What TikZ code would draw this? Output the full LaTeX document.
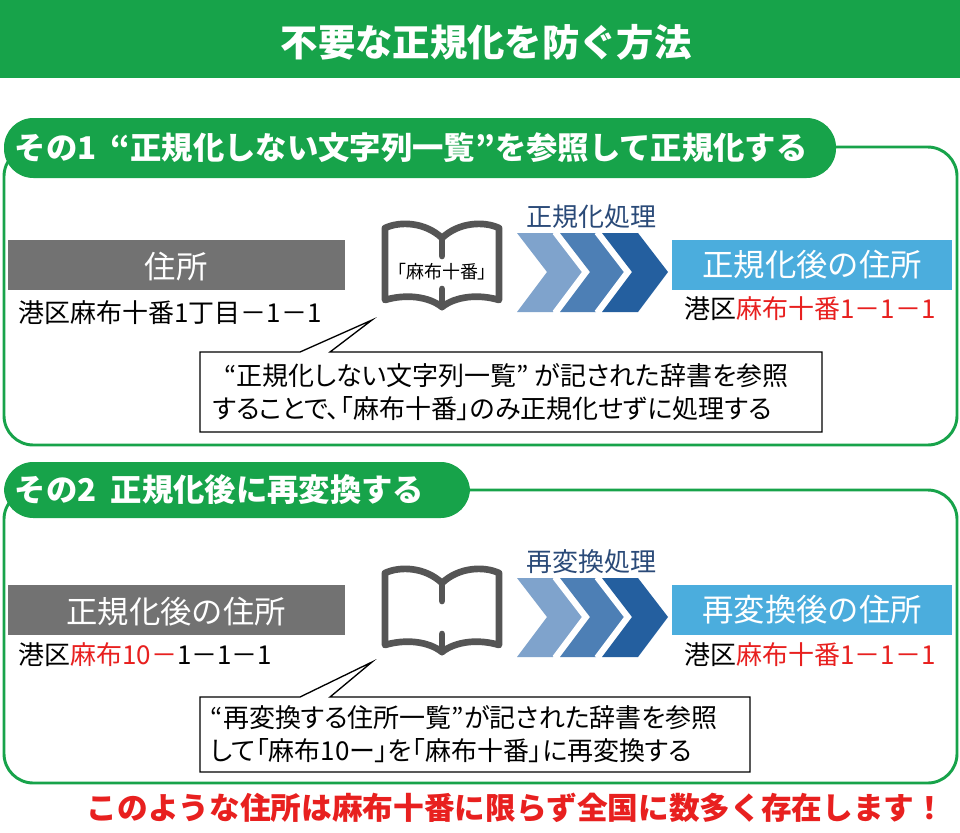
\documentclass[tikz,border=0pt]{standalone}
\usepackage{fontspec}
\setmainfont{Noto Sans CJK JP}
\newfontfamily\jpp[RawFeature=+palt]{Noto Sans CJK JP}
\begin{document}
\begin{tikzpicture}[x=0.75pt,y=-0.75pt,
  panel/.style={draw=gcol,line width=2.2pt,rounded corners=22pt},
  hdr/.style={fill=gcol,rounded corners=22pt},
  hdrtext/.style={text=white,font=\bfseries\fontsize{23.5}{28}\selectfont,anchor=west},
  graybox/.style={fill=gray70,text=white,font=\fontsize{23.5}{27}\selectfont},
  bluebox/.style={fill=lblue,text=white,font=\fontsize{23.5}{27}\selectfont},
  addr/.style={font=\fontsize{19.5}{23}\selectfont,anchor=west,inner sep=0pt},
  proc/.style={text=navy,font=\fontsize{19.5}{23}\selectfont},
  callout/.style={draw=black,line width=1pt,fill=white},
  ctext/.style={font=\jpp\fontsize{19.5}{25}\selectfont,align=left,anchor=west},
  book/.style={draw=bookgray,line width=5pt,line cap=round,line join=round}]
\definecolor{gcol}{HTML}{17A34A}
\definecolor{gray70}{HTML}{727272}
\definecolor{lblue}{HTML}{4BADDD}
\definecolor{navy}{HTML}{2A4A78}
\definecolor{bookgray}{HTML}{555555}
\definecolor{c1}{HTML}{7FA3CC}
\definecolor{c2}{HTML}{4D7FB5}
\definecolor{c3}{HTML}{245F9F}
\definecolor{rd}{HTML}{E8201F}
\useasboundingbox (0,0) rectangle (960,832);
\fill[white] (0,0) rectangle (960,832);
% title
\fill[gcol] (0,0) rectangle (960,78);
\node[text=white,font=\bfseries\fontsize{28}{32}\selectfont] (title) at (486,42) {不要な正規化を防ぐ方法};
% panels
\draw[panel] (4,147) rectangle (957,445);
\fill[hdr] (4,118) rectangle (836,178);
\node[hdrtext] (h1) at (10,148) {その1\ \ “正規化しない文字列一覧”を参照して正規化する};
\draw[panel] (4,490) rectangle (957,783);
\fill[hdr] (4,462) rectangle (470,518);
\node[hdrtext] (h2) at (10,490) {その2\ \ 正規化後に再変換する};
\foreach \yo/\lab/\proclab/\rlab in {0/住所/正規化処理/正規化後の住所, 345/正規化後の住所/再変換処理/再変換後の住所}{
  \begin{scope}[yshift=-\yo*0.75pt]
  \fill[gray70] (8,240) rectangle (345,290);
  \node[graybox] at (176,267) {\lab};
  \fill[lblue] (672,240) rectangle (952,290);
  \node[bluebox] at (812,265) {\rlab};
  \node[proc] at (591,217) {\proclab};
  \foreach \x/\c in {517/c1,560/c2,602/c3}
    \fill[\c] (\x,233) -- (\x+36,233) -- (\x+66,272) -- (\x+36,312) -- (\x,312) -- (\x+30,272) -- cycle;
  \foreach \x in {560,602}
    \draw[white,line width=2.5pt] (\x-6,233) -- (\x+24,272) -- (\x-6,312);
  \draw[book] (442,238) .. controls (425,222) and (400,221) .. (385,228) -- (385,300)
     .. controls (405,294) and (428,296) .. (442,307) .. controls (456,296) and (479,294) .. (499,300)
     -- (499,228) .. controls (484,221) and (459,222) .. (442,238);
  \draw[book] (442,238) -- (442,256);
  \draw[book] (442,289) -- (442,307);
  \end{scope}}
% row 1 texts
\node[addr] (a1) at (18,313) {港区麻布十番1丁目－1－1};
\node[addr] (b1) at (684,309) {港区\textcolor{rd}{麻布十番1－1－1}};
\node[font=\jpp\fontsize{13.5}{16}\selectfont,fill=white,inner sep=0.5pt] (dict) at (442,272) {「麻布十番」};
\draw[callout] (200,352) -- (300,352) -- (372,320) -- (330,352) -- (822,352) -- (822,432) -- (200,432) -- cycle;
\node[ctext] (t1) at (208,392) {\ \ “正規化しない文字列一覧” が記された辞書を参照\\ することで、「麻布十番」のみ正規化せずに処理する};
% row 2 texts
\node[addr] (a2) at (18,655) {港区\textcolor{rd}{麻布10－}1－1－1};
\node[addr] (b2) at (684,655) {港区\textcolor{rd}{麻布十番1－1－1}};
\draw[callout] (200,697) -- (300,697) -- (372,662) -- (330,697) -- (750,697) -- (750,772) -- (200,772) -- cycle;
\node[ctext] (t2) at (206,734) {“再変換する住所一覧”が記された辞書を参照\\して「麻布10ー」を「麻布十番」に再変換する};
% footer
\node[text=rd,font=\bfseries\fontsize{23}{27}\selectfont] (foot) at (516,808) {このような住所は麻布十番に限らず全国に数多く存在します！};
\end{tikzpicture}
\end{document}
